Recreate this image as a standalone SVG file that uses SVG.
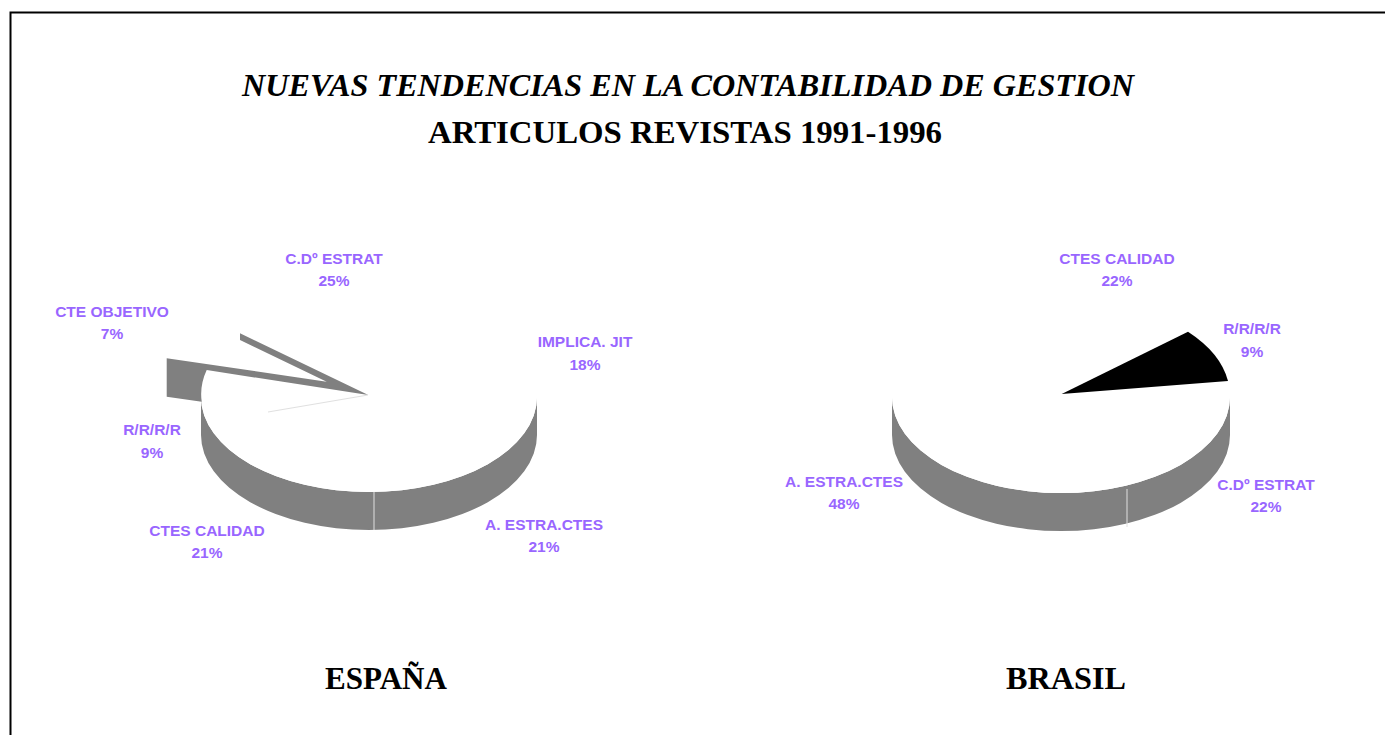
<svg xmlns="http://www.w3.org/2000/svg" width="1385" height="735" viewBox="0 0 1385 735">
<style>
.lbl{font-family:"Liberation Sans",Arial,sans-serif;font-weight:bold;font-size:15.5px;fill:#9966ff;text-anchor:middle}
.ttl{font-family:"Liberation Serif","Times New Roman",serif;font-weight:bold;fill:#000;font-size:32px}
.side{fill:#808080}
.top{fill:#ffffff}
.seam{stroke:#e0e0e0;stroke-width:1;fill:none}
</style>
<rect x="0" y="0" width="1385" height="735" fill="#ffffff"/>
<rect id="frame" x="10.5" y="12.5" width="1400" height="760" fill="none" stroke="#000" stroke-width="2"/>
<g id="titles">
<text class="ttl" x="242" y="96" font-style="italic" textLength="892" lengthAdjust="spacingAndGlyphs">NUEVAS TENDENCIAS EN LA CONTABILIDAD DE GESTION</text>
<text class="ttl" x="428" y="143" textLength="514" lengthAdjust="spacingAndGlyphs">ARTICULOS REVISTAS 1991-1996</text>
<text class="ttl" x="325" y="689" textLength="122" lengthAdjust="spacingAndGlyphs">ESPAÑA</text>
<text class="ttl" x="1006" y="689" textLength="120" lengthAdjust="spacingAndGlyphs">BRASIL</text>
</g>
<g id="pie-espana">
<path class="side" d="M201,397 A168 95 0 0 0 537,397 L537,435 A168 95 0 0 1 201,435 Z"/>
<ellipse class="top" cx="369" cy="397" rx="168" ry="95"/>
<line class="seam" x1="374" y1="492" x2="374" y2="530"/>
<path class="side" d="M240,333.3 L368.3,395 L206.7,370 A168 95 0 0 0 201.7,401.7 L166.7,396.7 L166.7,358.3 L326.7,381.7 L240,340 Z"/>
<line class="seam" x1="368" y1="395" x2="268" y2="412"/>
</g>
<g id="pie-brasil">
<path class="side" d="M892,397 A169 96 0 0 0 1230,397 L1230,435 A169 96 0 0 1 892,435 Z"/>
<ellipse class="top" cx="1061" cy="397" rx="169" ry="96"/>
<line class="seam" x1="1127" y1="489" x2="1127" y2="527"/>
<path fill="#000" d="M1061.7,394 L1188,331.7 A169 96 0 0 1 1228,381 Z"/>
</g>
<g id="labels-espana">
<text class="lbl" x="334" y="264">C.Dº ESTRAT</text>
<text class="lbl" x="334" y="286">25%</text>
<text class="lbl" x="112" y="317">CTE OBJETIVO</text>
<text class="lbl" x="112" y="339">7%</text>
<text class="lbl" x="585" y="347">IMPLICA. JIT</text>
<text class="lbl" x="585" y="370">18%</text>
<text class="lbl" x="152" y="435">R/R/R/R</text>
<text class="lbl" x="152" y="458">9%</text>
<text class="lbl" x="207" y="536">CTES CALIDAD</text>
<text class="lbl" x="207" y="558">21%</text>
<text class="lbl" x="544" y="530">A. ESTRA.CTES</text>
<text class="lbl" x="544" y="552">21%</text>
</g>
<g id="labels-brasil">
<text class="lbl" x="1117" y="264">CTES CALIDAD</text>
<text class="lbl" x="1117" y="286">22%</text>
<text class="lbl" x="1252" y="334">R/R/R/R</text>
<text class="lbl" x="1252" y="357">9%</text>
<text class="lbl" x="844" y="487">A. ESTRA.CTES</text>
<text class="lbl" x="844" y="509">48%</text>
<text class="lbl" x="1266" y="490">C.Dº ESTRAT</text>
<text class="lbl" x="1266" y="512">22%</text>
</g>
</svg>
